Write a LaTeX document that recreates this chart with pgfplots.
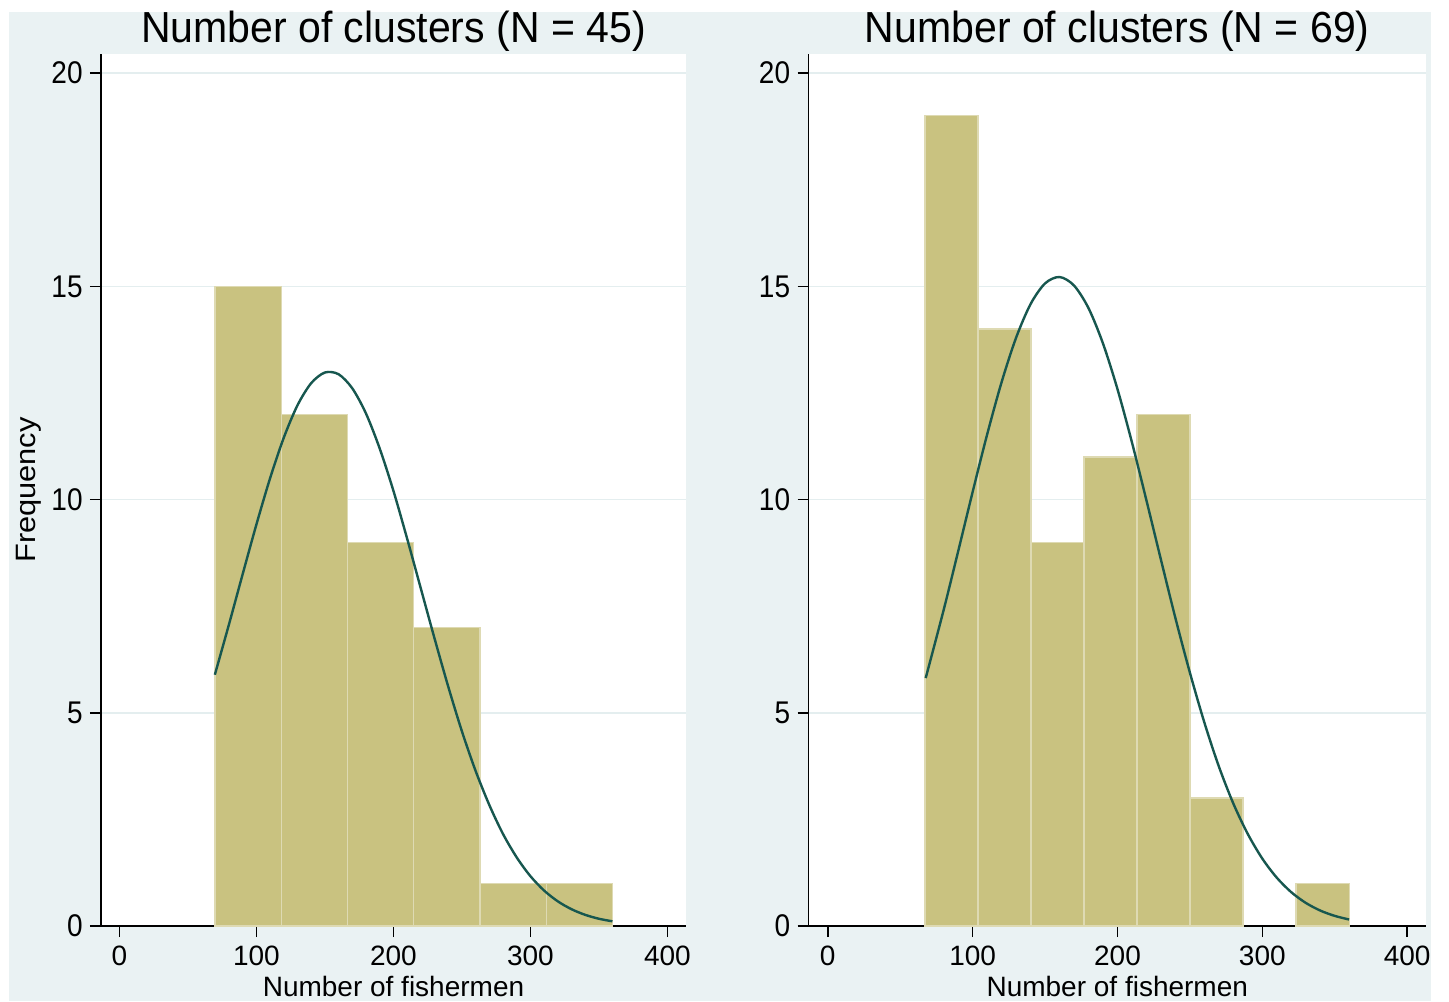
\documentclass[border=0pt]{standalone}
\usepackage{fontspec}
\setmainfont{Liberation Sans}
\usepackage{pgfplots}
\pgfplotsset{compat=1.18}
\definecolor{bgc}{HTML}{EAF2F3}
\definecolor{barc}{HTML}{C9C280}
\definecolor{barline}{HTML}{DEDAB3}
\definecolor{curvec}{HTML}{17574F}
\definecolor{gridc}{HTML}{E4EEEF}

\pgfplotsset{
  every axis title shift=0pt,
  stata/.style={
    scale only axis,
    anchor=south west,
    height=436pt,
    xmin=-13.4, xmax=413.6,
    ymin=0, ymax=20.45,
    axis x line*=bottom,
    axis y line*=left,
    axis line style={black, line width=0.75pt},
    axis background/.style={fill=white},
    xtick={0,100,200,300,400},
    ytick={0,5,10,15,20},
    tick align=outside,
    major tick length=5.5pt,
    every tick/.style={black, line width=0.75pt},
    ymajorgrids,
    major grid style={gridc, line width=0.8pt},
    /pgf/number format/assume math mode=true,
    tick label style={font=\fontsize{14}{16}\selectfont, black},
    yticklabel style={inner xsep=3.5pt, yscale=1.12},
    xticklabel style={inner ysep=0pt, yshift=-4.5pt},
    label style={font=\fontsize{14}{16}\selectfont, black},
    title style={font=\fontsize{20.5}{24}\selectfont, black, yscale=1.06, at={(axis description cs:0.5,1)}, anchor=base, yshift=5.5pt},
    xlabel style={at={(axis description cs:0.5,-0.0826)}, anchor=base, yshift=1pt, inner sep=0pt},
    xlabel={Number of fishermen},
  }
}

\begin{document}
\begin{tikzpicture}
\useasboundingbox (0,0) rectangle (724.5pt,500.5pt);
\clip (0,0) rectangle (724.5pt,500.5pt);
\fill[white] (0,0) rectangle (724.5pt,500.5pt);
\fill[bgc] (4.5pt,0) rectangle (715.5pt,494.5pt);

% Left panel
\begin{axis}[stata,
  at={(50.5pt,37.5pt)},
  width=292.5pt,
  title={Number of clusters (N = 45)},
  ylabel={Frequency},
  ylabel style={at={(axis description cs:-0.1128,0.5)}, anchor=base, xscale=1.1},
]
\addplot[ybar interval, fill=barc, draw=barline, line width=0.6pt] coordinates {
  (69.8,15) (118.15,12) (166.5,9) (214.85,7) (263.2,1) (311.55,1) (359.9,1)
};
\addplot[curvec, line width=1.2pt, smooth] coordinates {
  (69.7,5.893) (80,7.072) (90,8.251) (100,9.412) (110,10.499) (120,11.45)
  (130,12.211) (140,12.73) (150,12.98) (160,12.94) (170,12.61)
  (180,12.02) (190,11.20) (200,10.21) (210,9.09) (220,7.92) (230,6.75)
  (240,5.62) (250,4.57) (260,3.64) (270,2.84) (280,2.16) (290,1.61)
  (300,1.17) (310,0.832) (320,0.579) (330,0.394) (340,0.262) (350,0.170)
  (359.9,0.110)
};
\end{axis}

% Right panel
\begin{axis}[stata,
  at={(404.25pt,37.5pt)},
  width=308.75pt,
  xmin=-13.3, xmax=413.0,
  title={Number of clusters (N = 69)},
]
\addplot[ybar interval, fill=barc, draw=barline, line width=0.6pt] coordinates {
  (67.1,19) (103.7,14) (140.3,9) (176.9,11) (213.5,12) (250.1,3) (286.7,3)
};
\addplot[ybar interval, fill=barc, draw=barline, line width=0.6pt] coordinates {
  (323.3,1) (359.9,1)
};
\addplot[curvec, line width=1.2pt, smooth] coordinates {
  (67.6,5.814) (80,7.412) (90,8.785) (100,10.178) (110,11.525) (120,12.754)
  (130,13.796) (140,14.585) (150,15.07) (160,15.22) (170,15.02) (180,14.49)
  (190,13.66) (200,12.59) (210,11.34) (220,9.98) (230,8.59) (240,7.22)
  (250,5.94) (260,4.77) (270,3.74) (280,2.87) (290,2.155) (300,1.580)
  (310,1.132) (320,0.792) (330,0.542) (340,0.362) (350,0.237) (359.9,0.152)
};
\end{axis}
\end{tikzpicture}
\end{document}
